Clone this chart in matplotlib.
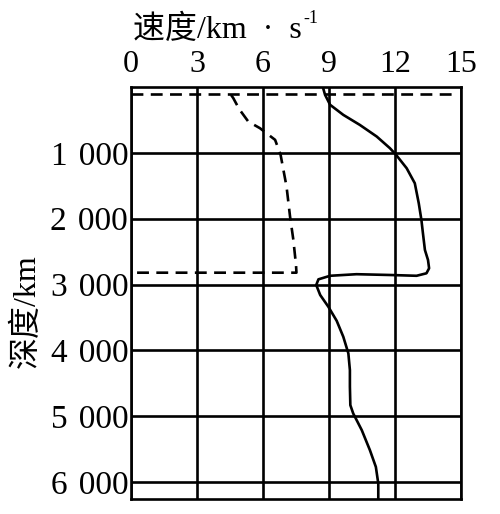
import matplotlib
matplotlib.use("Agg")
import matplotlib.pyplot as plt

# Data
x_ticks = [0, 3, 6, 9, 12, 15]
y_ticks = [1000, 2000, 3000, 4000, 5000, 6000]
y_tick_labels = ["1\u2004000", "2\u2004000", "3\u2004000", "4\u2004000", "5\u2004000", "6\u2004000"]

# P-wave (solid): velocity km/s, depth km
p_vel = [8.72, 8.82, 9.05, 9.65, 10.4, 11.17, 11.77, 12.05, 12.53, 12.9, 13.08, 13.2,
         13.27, 13.36, 13.5, 13.55, 13.43, 12.98, 11.77, 10.25, 9.05, 8.52, 8.42, 8.6,
         8.97, 9.35, 9.65, 9.88, 9.95, 9.95, 9.97, 10.1, 10.49, 10.86, 11.13, 11.24, 11.24]
p_depth = [0, 118, 270, 423, 575, 752, 929, 1030, 1233, 1461, 1765, 2018,
           2221, 2474, 2626, 2752, 2828, 2866, 2854, 2842, 2866, 2920, 3006, 3158,
           3336, 3550, 3792, 4044, 4298, 4550, 4830, 4956, 5210, 5514, 5768, 6020, 6260]

# S-wave (dashed)
s_vel = [4.55, 4.65, 4.92, 5.33, 5.86, 6.55, 6.8, 7.07, 7.23, 7.38, 7.5, 7.52, 0]
s_depth = [120, 169, 336, 524, 625, 802, 1030, 1512, 1968, 2322, 2702, 2819, 2819]

# Boundary near surface (dashed)
moho_vel = [0, 14.6]
moho_depth = [112, 112]

fig = plt.figure(figsize=(5.0, 5.14), dpi=100)
ax = fig.add_axes([0.262, 0.0292, 0.66, 0.8015])

lw = 1.9
serif = ['Liberation Serif', 'Noto Sans CJK SC']
dash = (0, (4.5, 2.8))

ax.plot(p_vel, p_depth, color='black', lw=lw, solid_joinstyle='round')
ax.plot(s_vel, s_depth, color='black', lw=lw, linestyle=dash)
ax.plot(moho_vel, moho_depth, color='black', lw=lw, linestyle=dash)

ax.set_xlim(0, 15)
ax.set_ylim(6255, 0)
ax.set_xticks(x_ticks)
ax.set_yticks(y_ticks)
ax.set_yticklabels(y_tick_labels)
ax.xaxis.tick_top()
ax.grid(True, color='black', lw=lw)
ax.set_axisbelow(False)
for s in ax.spines.values():
    s.set_linewidth(lw)
ax.tick_params(axis='x', length=0, pad=6, labelsize=23)
ax.tick_params(axis='y', length=0, pad=2, labelsize=24)
for lab in ax.get_xticklabels() + ax.get_yticklabels():
    lab.set_family(serif)

t = fig.text(133 / 500, 1 - 30 / 514, "速度/km  ·  s", family=serif, fontsize=23,
             ha='left', va='center')
ax.annotate("-1", xy=(1, 0.6), xycoords=t, xytext=(1, 0), textcoords='offset points',
            fontsize=13, family=serif, ha='left', va='bottom')

fig.text(27 / 500, 1 - 311 / 514, "深度/km", family=serif, fontsize=23,
         rotation=90, ha='center', va='center')

fig.savefig("out.png", dpi=100)
